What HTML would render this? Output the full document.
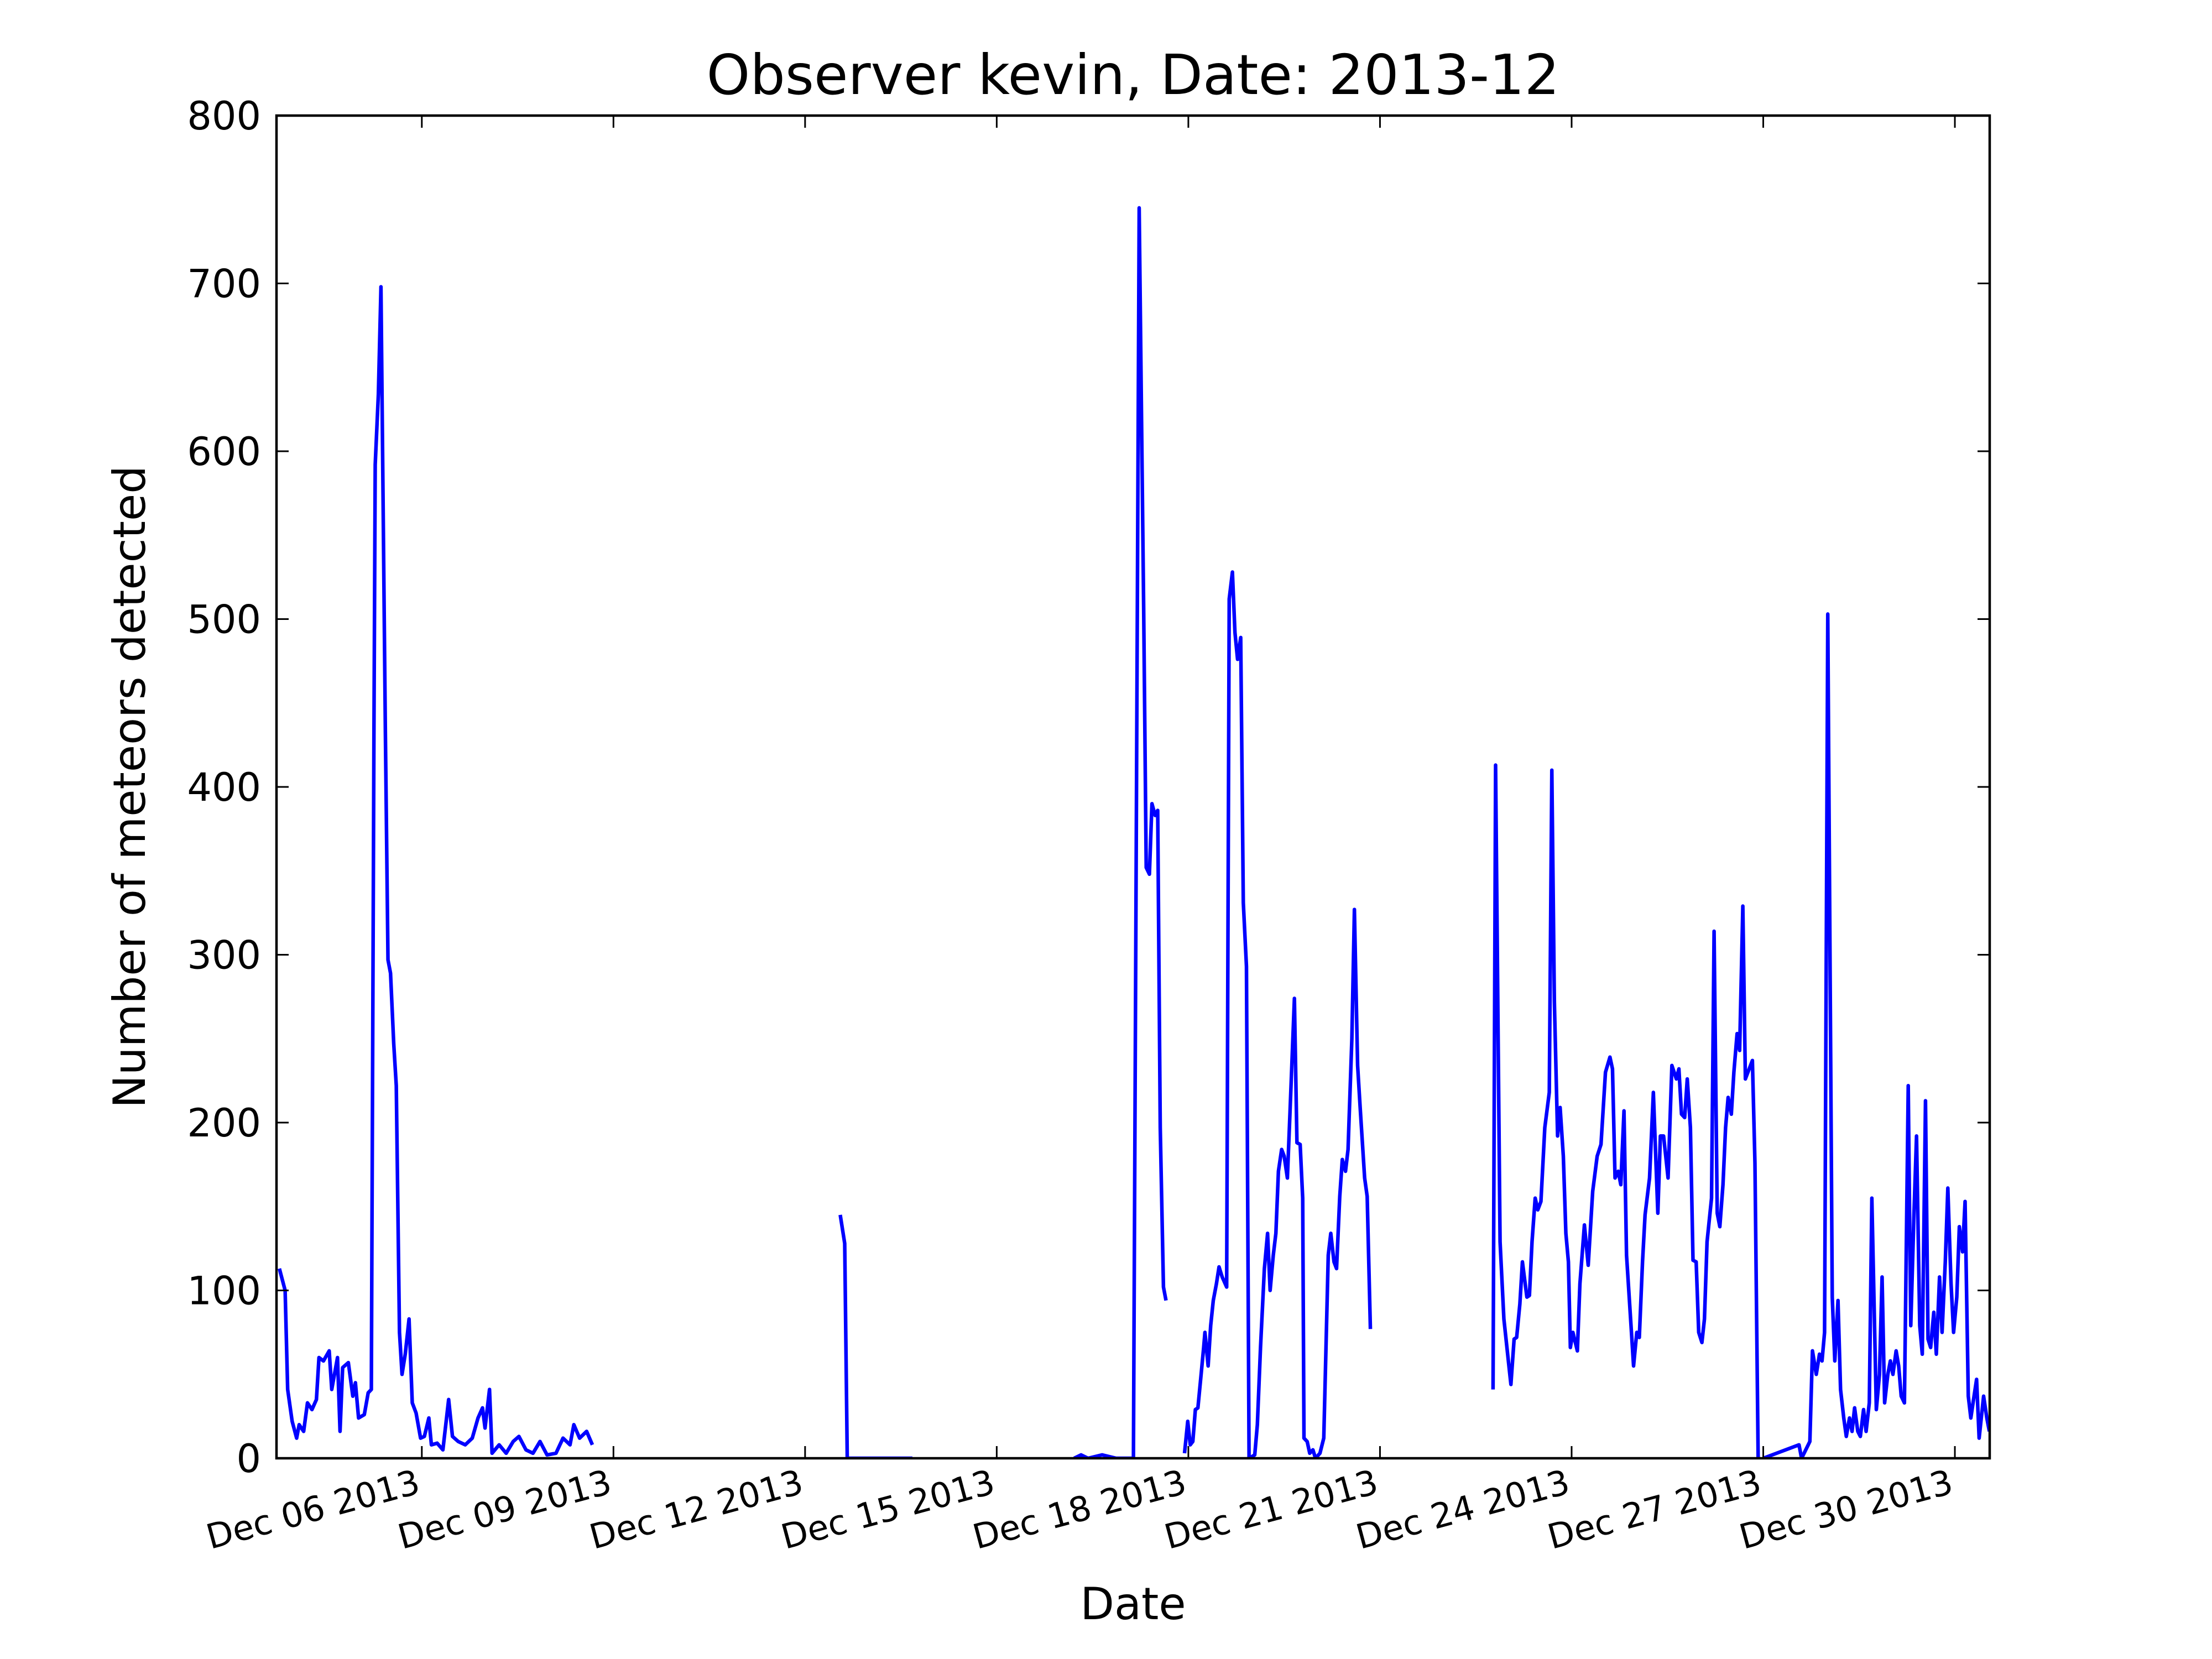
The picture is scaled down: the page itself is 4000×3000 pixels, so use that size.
<!DOCTYPE html>
<html><head><meta charset="utf-8"><style>
html,body{margin:0;padding:0;background:#fff;}
svg{display:block;font-family:"DejaVu Sans","Liberation Sans",sans-serif;}
</style></head><body>
<svg id="chart" width="4000" height="3000" viewBox="0 0 4000 3000" xmlns="http://www.w3.org/2000/svg">
<rect x="0" y="0" width="4000" height="3000" fill="#fff"/>
<text x="2049" y="170" font-size="100" text-anchor="middle">Observer kevin, Date: 2013-12</text>
<text x="2049" y="2928" font-size="80" text-anchor="middle">Date</text>
<text transform="translate(262,1423) rotate(-90)" font-size="80" text-anchor="middle">Number of meteors detected</text>
<g id="plot"></g>
</svg>
<script>
// Data: time in days since Dec 01 2013 00:00, value = meteors detected (null = gap)
const times = [2.77,2.86,2.9,2.97,3.04,3.08,3.15,3.21,3.28,3.35,3.39,3.46,3.55,3.59,3.68,3.72,3.76,3.85,3.92,3.96,4.01,4.10,4.16,4.21,4.25,4.27,4.32,4.36,4.43,4.47,4.51,4.56,4.60,4.65,4.69,4.74,4.80,4.85,4.91,4.98,5.04,5.11,5.15,5.24,5.33,5.42,5.48,5.57,5.68,5.79,5.88,5.95,5.99,6.06,6.10,6.21,6.32,6.43,6.52,6.63,6.74,6.85,6.96,7.10,7.21,7.32,7.38,7.47,7.58,7.67,
7.7,
11.55,11.62,11.66,12.68,
12.7,
15.21,15.32,15.43,15.65,15.87,16.14,16.23,16.30,16.34,16.39,16.43,16.48,16.52,16.56,16.61,16.65,
16.7,
16.94,16.99,17.03,17.07,17.11,17.15,17.2,17.24,17.26,17.31,17.35,17.39,17.44,17.48,17.53,17.60,17.64,17.69,17.73,17.77,17.82,17.86,17.91,17.95,18.04,18.08,18.13,18.19,18.24,18.28,18.33,18.37,18.41,18.46,18.50,18.55,18.59,18.66,18.70,18.75,18.79,18.81,18.86,18.90,18.95,18.99,19.06,19.12,19.19,19.23,19.28,19.32,19.37,19.41,19.46,19.50,19.56,19.60,19.65,19.69,19.76,19.80,19.85,
19.9,
21.77,21.81,21.88,21.94,22.01,22.05,22.10,22.14,22.19,22.23,22.30,22.34,22.38,22.43,22.47,22.52,22.58,22.65,22.69,22.73,22.78,22.82,22.87,22.91,22.95,22.98,23.02,23.09,23.13,23.20,23.26,23.33,23.40,23.46,23.53,23.60,23.64,23.68,23.73,23.77,23.82,23.86,23.93,23.97,24.02,24.06,24.11,24.15,24.22,24.28,24.35,24.39,24.44,24.51,24.57,24.64,24.68,24.72,24.77,24.81,24.86,24.90,24.95,24.99,25.04,25.08,25.12,25.19,25.23,25.28,25.32,25.37,25.41,25.45,25.50,25.54,25.59,25.63,25.68,25.72,25.76,25.83,25.87,25.92,25.96,
26.0,
26.56,26.60,26.64,26.73,26.77,26.83,26.88,26.92,26.96,27.01,27.08,27.12,27.17,27.21,27.26,27.30,27.35,27.39,27.43,27.48,27.52,27.57,27.61,27.66,27.70,27.77,27.82,27.86,27.90,27.95,27.99,28.03,28.08,28.12,28.16,28.21,28.27,28.31,28.36,28.40,28.45,28.49,28.54,28.58,28.62,28.67,28.71,28.76,28.80,28.85,28.89,28.94,28.98,29.03,29.07,29.12,29.16,29.21,29.25,29.30,29.34,29.38,29.45,29.50,29.54,29.58];
const counts = [113,100,41,22,12,20,16,33,29,35,60,58,64,41,60,16,54,57,37,45,24,26,39,41,432,592,634,698,432,297,289,247,222,75,50,62,83,33,27,12,13,24,8,9,5,35,13,10,8,12,24,30,18,41,3,8,3,10,13,5,3,10,2,3,12,8,20,12,16,8,
null,
145,128,0,0,
null,
0,2,0,2,0,0,745,507,352,348,390,383,386,197,102,94,
null,
3,22,8,10,29,30,50,66,75,55,79,94,104,114,108,102,512,528,492,476,489,331,293,0,2,20,66,113,134,100,121,134,171,184,180,167,205,274,188,187,155,12,10,3,5,0,3,12,121,134,117,113,156,178,171,184,250,327,234,209,167,156,77,
null,
41,413,129,83,58,44,71,72,92,117,96,97,129,155,148,153,197,218,410,272,192,209,180,134,117,66,75,64,104,139,115,159,180,187,230,239,232,167,171,163,207,121,79,55,75,72,117,145,167,218,146,192,192,167,234,226,232,205,203,226,197,118,117,75,69,83,129,155,314,146,138,163,197,215,205,230,253,243,329,226,230,237,176,0,
null,
0,8,0,3,10,64,50,62,58,75,503,96,58,94,41,24,13,24,16,30,16,13,29,16,33,155,29,50,108,33,50,58,50,64,55,37,33,222,79,146,192,79,62,213,71,66,87,62,108,75,117,161,104,75,96,138,123,153,37,24,37,47,12,37,24,16];
const xTickDays = [5,8,11,14,17,20,23,26,29];
const xTickLabels = ["Dec 06 2013","Dec 09 2013","Dec 12 2013","Dec 15 2013","Dec 18 2013","Dec 21 2013","Dec 24 2013","Dec 27 2013","Dec 30 2013"];
const yTicks = [0,100,200,300,400,500,600,700,800];

const L=500,R=3598,T=209,B=2637, X0=2.725, X1=29.545, Y0=0, Y1=800;
const NS="http://www.w3.org/2000/svg";
function xs(d){return L+(d-X0)/(X1-X0)*(R-L);}
function ys(v){return B-(v-Y0)/(Y1-Y0)*(B-T);}
const g=document.getElementById('plot');
function mk(tag,attrs){const e=document.createElementNS(NS,tag);for(const k in attrs)e.setAttribute(k,attrs[k]);return e;}

let d="",pen=false;
for(let i=0;i<times.length;i++){
  if(counts[i]===null){pen=false;continue;}
  d+=(pen?"L":"M")+xs(times[i]).toFixed(1)+","+ys(counts[i]).toFixed(1);
  pen=true;
}
const clip=mk('clipPath',{id:'pc'});clip.appendChild(mk('rect',{x:L,y:T,width:R-L,height:B-T}));g.appendChild(clip);
const line=mk('path',{d:d,fill:'none',stroke:'#0000ff','stroke-width':6.5,'stroke-linejoin':'round','clip-path':'url(#pc)'});


g.appendChild(line);

const frame=mk('rect',{x:L,y:T,width:R-L,height:B-T,fill:'none',stroke:'#000','stroke-width':4.5});


g.appendChild(frame);

yTicks.forEach(v=>{
  const y=ys(v);
  g.appendChild(mk('line',{x1:L,x2:L+22,y1:y,y2:y,stroke:'#000','stroke-width':3}));
  g.appendChild(mk('line',{x1:R-22,x2:R,y1:y,y2:y,stroke:'#000','stroke-width':3}));
  const t=mk('text',{x:L-28,y:y+25,'font-size':70,'text-anchor':'end'});
  t.textContent=v;
  
  
  g.appendChild(t);
});
xTickDays.forEach((dd,i)=>{
  const x=xs(dd);
  g.appendChild(mk('line',{x1:x,x2:x,y1:B,y2:B-22,stroke:'#000','stroke-width':3}));
  g.appendChild(mk('line',{x1:x,x2:x,y1:T,y2:T+22,stroke:'#000','stroke-width':3}));
  const t=mk('text',{x:x,y:B+62,'font-size':62,'text-anchor':'end',transform:`rotate(-15 ${x} ${B+62})`});
  t.textContent=xTickLabels[i];
  
  
  g.appendChild(t);
});
</script>
</body></html>
